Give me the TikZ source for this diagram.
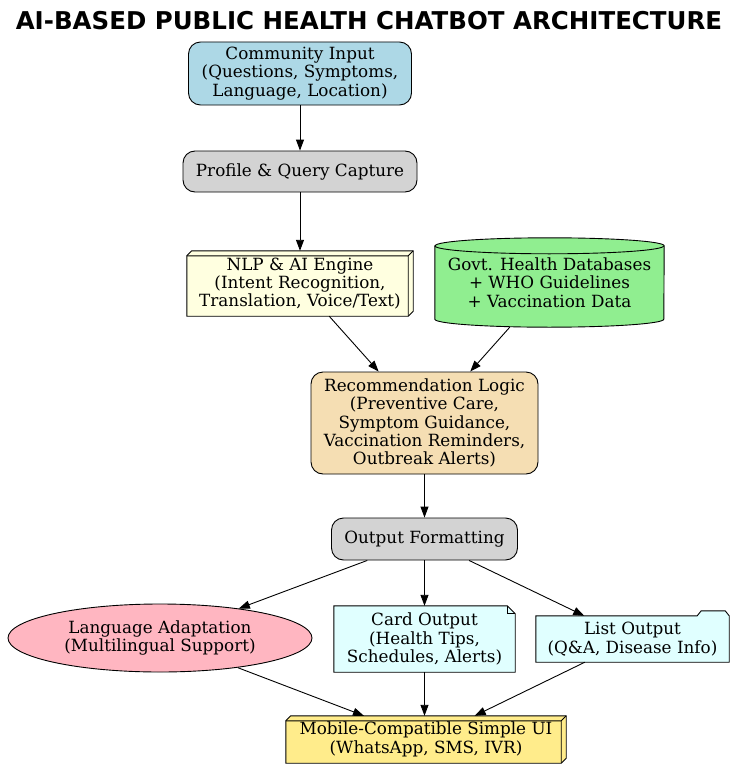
\documentclass[tikz,border=0pt]{standalone}
\usepackage{fontspec}
\setmainfont{DejaVu Serif}
\newfontfamily\titlefont{DejaVu Sans}
\usetikzlibrary{shapes.geometric,arrows.meta,backgrounds}

\definecolor{clightblue}{HTML}{ADD8E6}
\definecolor{clightgray}{HTML}{D3D3D3}
\definecolor{clightyellow}{HTML}{FFFFE0}
\definecolor{clightgreen}{HTML}{90EE90}
\definecolor{cwheat}{HTML}{F5DEB3}
\definecolor{clightpink}{HTML}{FFB6C1}
\definecolor{clightcyan}{HTML}{E0FFFF}
\definecolor{cgold}{HTML}{FFEC8B}

\newcommand\boxthree[2]{%
 \begin{pgfonlayer}{background}
 \filldraw[fill=#2, line width=0.9pt] (#1.south west) -- ([yshift=-5pt]#1.north west) -- ([xshift=5pt]#1.north west) -- (#1.north east) -- ([yshift=5pt]#1.south east) -- ([xshift=-5pt]#1.south east) -- cycle;
 \draw[line width=0.9pt] ([yshift=-5pt]#1.north west) -- ([shift={(-5pt,-5pt)}]#1.north east) -- ([xshift=-5pt]#1.south east)
   ([shift={(-5pt,-5pt)}]#1.north east) -- (#1.north east);
 \end{pgfonlayer}}

\begin{document}
\begin{tikzpicture}[x=1pt,y=-1pt,
 every node/.style={font=\fontsize{16.8}{18.4}\selectfont, align=center, inner sep=0pt},
 rbox/.style={draw, rounded corners=12pt, line width=0.9pt},
 arr/.style={-{Triangle[length=11pt,width=8pt]}, line width=0.9pt}
]
\useasboundingbox (0,0) rectangle (738,768);

\node[font=\titlefont\bfseries\fontsize{24.5}{28}\selectfont] (title) at (369,21) {AI-BASED PUBLIC HEALTH CHATBOT ARCHITECTURE};

\node[rbox, fill=clightblue, minimum width=223pt, minimum height=63pt] (ci) at (300,73.5)
  {Community Input\\(Questions, Symptoms,\\Language, Location)};
\node[rbox, fill=clightgray, minimum width=234pt, minimum height=41pt] (pq) at (300,171.5)
  {Profile \& Query Capture};
\node[minimum width=226pt, minimum height=65pt] (nlp) at (300,283.5)
  {NLP \& AI Engine\\(Intent Recognition,\\Translation, Voice/Text)};
\boxthree{nlp}{clightyellow}
\node[minimum width=229pt, minimum height=89pt] (db) at (549.5,282.5)
  {Govt. Health Databases\\+ WHO Guidelines\\+ Vaccination Data};
\begin{pgfonlayer}{background}
\filldraw[fill=clightgreen, line width=0.9pt] ([yshift=-8pt]db.north west) -- ([yshift=8pt]db.south west)
  arc[start angle=180, end angle=360, x radius=114.5pt, y radius=8pt]
  -- ([yshift=-8pt]db.north east)
  arc[start angle=0, end angle=180, x radius=114.5pt, y radius=8pt] -- cycle;
\draw[line width=0.9pt] ([yshift=-8pt]db.north west) arc[start angle=180, end angle=360, x radius=114.5pt, y radius=8pt];
\end{pgfonlayer}

\node[rbox, fill=cwheat, minimum width=227pt, minimum height=102pt] (rec) at (424.5,423)
  {Recommendation Logic\\(Preventive Care,\\Symptom Guidance,\\Vaccination Reminders,\\Outbreak Alerts)};
\node[rbox, fill=clightgray, minimum width=186pt, minimum height=42pt] (of) at (424.5,539)
  {Output Formatting};

\node[ellipse, draw, line width=0.9pt, fill=clightpink, minimum width=304pt, minimum height=68pt] (lang) at (160,638)
  {Language Adaptation\\(Multilingual Support)};
\node[minimum width=181pt, minimum height=66pt] (card) at (424.5,639)
  {Card Output\\(Health Tips,\\Schedules, Alerts)};
\begin{pgfonlayer}{background}
\filldraw[fill=clightcyan, line width=0.9pt] (card.south west) -- (card.north west) -- ([xshift=-8pt]card.north east)
  -- ([yshift=-8pt]card.north east) -- (card.south east) -- cycle;
\draw[line width=0.9pt] ([xshift=-8pt]card.north east) -- ([shift={(-8pt,-8pt)}]card.north east) -- ([yshift=-8pt]card.north east);
\end{pgfonlayer}
\node[minimum width=193pt, minimum height=46pt] (list) at (632.5,639)
  {List Output\\(Q\&A, Disease Info)};
\begin{pgfonlayer}{background}
\filldraw[fill=clightcyan, line width=0.9pt] (list.south west) -- (list.north west) -- ([xshift=-32pt]list.north east)
  -- ([shift={(-28pt,5pt)}]list.north east) -- ([shift={(-4pt,5pt)}]list.north east) -- (list.north east)
  -- (list.south east) -- cycle;
\end{pgfonlayer}

\node[minimum width=280pt, minimum height=47pt] (ui) at (426,739.5)
  {Mobile-Compatible Simple UI\\(WhatsApp, SMS, IVR)};
\boxthree{ui}{cgold}

\draw[arr] (ci) -- (pq);
\draw[arr] (pq) -- (nlp);
\draw[arr] (nlp) -- (rec);
\draw[arr] (db) -- (rec);
\draw[arr] (rec) -- (of);
\draw[arr] (of) -- (lang);
\draw[arr] (of) -- (card);
\draw[arr] (of) -- (list);
\draw[arr] (lang) -- (ui);
\draw[arr] (card) -- (card |- ui.north);
\draw[arr] (list) -- (ui);
\end{tikzpicture}
\end{document}
